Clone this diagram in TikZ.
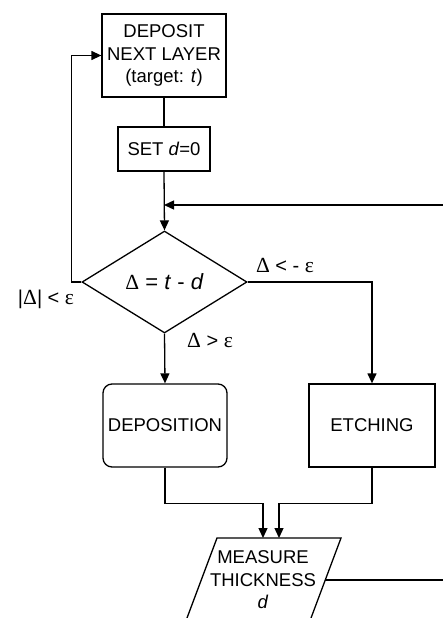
\documentclass[tikz,border=0pt]{standalone}
\usepackage{fontspec}
\setmainfont{Liberation Sans}
\newfontfamily\grkfont{Liberation Serif}
\newcommand{\grk}{\grkfont\fontsize{21.5}{24}\selectfont}
\usetikzlibrary{shapes.geometric,arrows.meta,calc}
\begin{document}
\begin{tikzpicture}[x=1pt,y=-1pt, line width=1.3pt,
  font=\fontsize{18.5}{22.5}\selectfont,
  box/.style={draw, rectangle, align=center, inner sep=2pt},
  arr/.style={-{Triangle[length=10pt,width=9pt]}},
  lbl/.style={inner sep=0pt, anchor=center, font=\fontsize{20}{22}\selectfont}]
\useasboundingbox (0,0) rectangle (443,618);
\clip (0,0) rectangle (443,618);
% nodes
\node[box, minimum width=124pt, minimum height=83pt] (dep) at (164,55.5)
  {DEPOSIT\\NEXT LAYER\\(target: \textit{t})};
\node[box, minimum width=92pt, minimum height=44pt] (set) at (164,149)
  {SET \textit{d}=0};
\node[draw, diamond, minimum width=165pt, minimum height=102pt, inner sep=0pt,
  font=\fontsize{22}{24}\selectfont] (dia) at (164.5,282)
  {{\grk Δ} = \textit{t} - \textit{d}};
\node[box, rounded corners=9pt, minimum width=124pt, minimum height=83pt] (depo) at (165,425.5)
  {DEPOSITION};
\node[box, minimum width=126pt, minimum height=83pt] (etch) at (372,425.5)
  {ETCHING};
\node[align=center, inner sep=0pt] (meas) at (263,580)
  {MEASURE\\THICKNESS\\\textit{d}};
\draw (217,538) -- (341,538) -- (309.5,622) -- (185.5,622) -- cycle;
\coordinate (mtop1) at (263,538);
\coordinate (mtop2) at (279,538);
\coordinate (measR) at (324.5,580);
\coordinate (measE) at (443,580);
\coordinate (fbR) at (443,205);
% labels
\node[lbl] (l1) at (46,299) {|{\grk Δ}| < {\grk ε}};
\node[lbl] (l2) at (285,266) {{\grk Δ} < - {\grk ε}};
\node[lbl] (l3) at (210,341) {{\grk Δ} > {\grk ε}};
% connectors
\draw (dep.south) -- (set.north);
\draw[arr] (set.south) -- (dia.north);
\draw[arr] (fbR) -- (set.south |- fbR);
\draw[arr] (dia.west) -- ++(-10,0) |- (dep.west);
\draw[arr] (dia.east) -| (etch.north);
\draw[arr] (dia.south) -- (depo.north);
\draw[arr] (depo.south) -- ++(0,36) -| (mtop1);
\draw[arr] (etch.south) -- ++(0,36) -| (mtop2);
\draw (measR) -- (measE);
\end{tikzpicture}
\end{document}
